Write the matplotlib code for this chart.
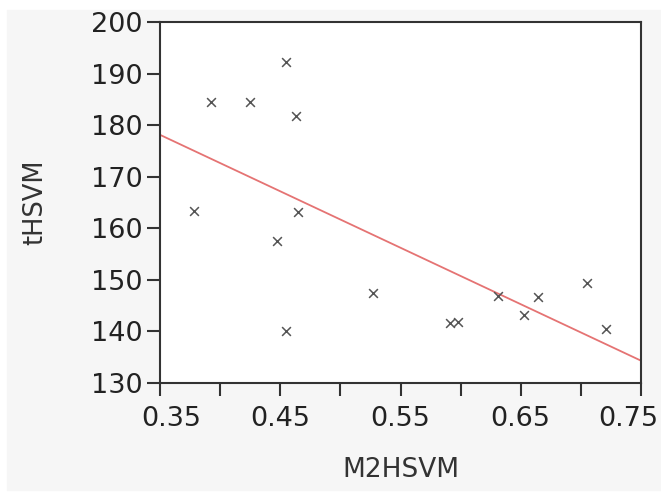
import numpy as np
import matplotlib.pyplot as plt
import matplotlib.transforms as mtrans
from matplotlib.patches import Rectangle

# DATA
m2hsvm = [0.378, 0.392, 0.425, 0.455, 0.463, 0.447, 0.465, 0.455,
          0.527, 0.591, 0.598, 0.631, 0.653, 0.664, 0.705, 0.721]
thsvm = [163.3, 184.5, 184.5, 192.2, 181.8, 157.5, 163.2, 140.1,
         147.5, 141.6, 141.9, 146.9, 143.2, 146.7, 149.4, 140.5]
x_ticks = [0.35, 0.45, 0.55, 0.65, 0.75]
x_minor = [0.40, 0.50, 0.60, 0.70]
y_ticks = [130, 140, 150, 160, 170, 180, 190, 200]

# FIT
slope, intercept = np.polyfit(m2hsvm, thsvm, 1)
xl = np.array([0.35, 0.75])

# PRESENTATION
fig = plt.figure(figsize=(6.61, 5.0), dpi=100)
fig.patch.set_facecolor('white')
fig.patches.append(Rectangle((7/661, 10/500), 1 - 7/661, 1 - 20/500,
                             transform=fig.transFigure, color='#f6f6f6', zorder=-10))
ax = fig.add_axes([160/661, 117/500, 481/661, 361/500])
ax.set_facecolor('white')

ax.plot(xl, intercept + slope * xl, '-', color='#e57373', linewidth=1.3)
ax.scatter(m2hsvm, thsvm, marker='x', color='#555555', s=40, linewidths=1.1, zorder=3)

ax.set_xlim(0.35, 0.75)
ax.set_ylim(130, 200)
ax.set_xticks(x_ticks)
ax.set_xticklabels(['%.2f' % v for v in x_ticks])
ax.set_xticks(x_minor, minor=True)
ax.set_yticks(y_ticks)
for s in ax.spines.values():
    s.set_color('#333333')
    s.set_linewidth(1.5)
ax.tick_params(which='both', direction='out', length=9.5, width=1.5, color='#333333',
               labelsize=19.5, labelcolor='#222222')
ax.tick_params(axis='x', pad=7)
ax.tick_params(axis='y', pad=3)

# first / last x labels nudged to stay clear of the edges
labs = ax.get_xticklabels()
labs[0].set_transform(labs[0].get_transform() + mtrans.ScaledTranslation(11/100, 0, fig.dpi_scale_trans))
labs[-1].set_transform(labs[-1].get_transform() + mtrans.ScaledTranslation(-13/100, 0, fig.dpi_scale_trans))

ax.set_xlabel('M2HSVM', fontsize=19, color='#333333', labelpad=18)
ax.set_ylabel('tHSVM', fontsize=18.5, color='#333333', labelpad=31)

plt.savefig('out.png', dpi=100, facecolor=fig.get_facecolor())
